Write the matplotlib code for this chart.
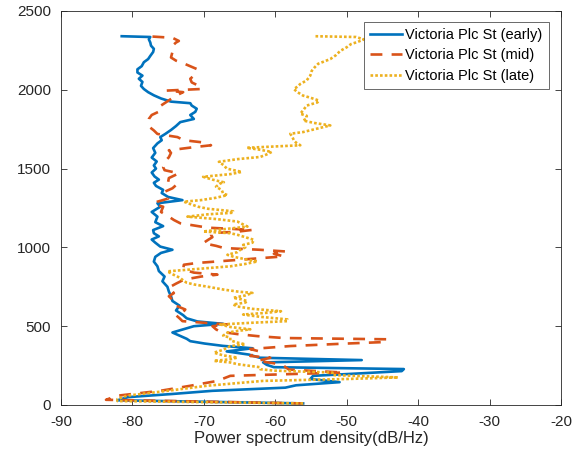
import matplotlib
matplotlib.use('Agg')
import matplotlib.pyplot as plt

## PSD traces (frequency in Hz, PSD in dB/Hz)
early_freq = [10, 30, 50, 70, 90, 110, 125, 145, 165, 185, 200, 215, 228, 240, 255, 270, 285, 300,
              320, 340, 360, 375, 390, 405, 420, 440, 460, 480, 500, 515, 530, 550, 570, 600, 630,
              660, 690, 720, 750, 785, 815, 850, 880, 910, 940, 965, 985, 1005, 1030, 1050, 1070,
              1090, 1110, 1135, 1160, 1195, 1225, 1258, 1280, 1300, 1320, 1345, 1365, 1390, 1410,
              1430, 1450, 1475, 1500, 1520, 1545, 1570, 1600, 1630, 1660, 1680, 1700, 1720, 1745,
              1770, 1795, 1815, 1840, 1860, 1880, 1900, 1915, 1925, 1945, 1965, 1985, 2005, 2025,
              2050, 2070, 2090, 2110, 2130, 2150, 2175, 2195, 2215, 2240, 2260, 2280, 2300, 2320,
              2335, 2340]
early_psd = [-56.1, -82.1, -80.6, -74.4, -68.8, -58.6, -57.1, -51.0, -55.1, -54.7, -48.4, -42.3,
             -42.0, -60.2, -61.2, -61.7, -47.9, -62.2, -63.7, -66.8, -63.2, -67.3, -69.9, -71.9,
             -72.4, -73.4, -74.4, -72.9, -71.4, -67.3, -70.9, -72.4, -72.9, -73.9, -73.4, -74.4,
             -74.6, -74.9, -75.1, -75.8, -75.5, -76.3, -76.5, -77.0, -76.8, -76.0, -74.4, -76.1,
             -76.8, -77.3, -76.3, -77.0, -77.1, -75.7, -76.8, -76.5, -77.3, -76.1, -76.5, -73.0,
             -75.0, -75.9, -75.7, -76.7, -77.0, -76.3, -76.9, -77.3, -76.7, -77.0, -76.6, -77.3,
             -76.8, -77.1, -76.5, -75.9, -76.1, -75.4, -74.6, -73.9, -73.3, -71.4, -71.9, -71.2,
             -71.0, -71.7, -71.9, -74.6, -76.0, -77.0, -77.8, -78.4, -78.8, -78.6, -79.1, -78.6,
             -79.3, -79.3, -78.7, -78.4, -77.8, -77.5, -77.1, -77.0, -77.4, -77.5, -77.7, -77.5,
             -81.5]

mid_freq = [10, 33, 59, 90, 122, 153, 185, 206, 225, 248, 265, 280, 300, 311, 340, 355, 374, 390,
            400, 417, 425, 437, 450, 465, 480, 500, 511, 532, 550, 570, 590, 606, 630, 650, 669,
            690, 710, 745, 770, 795, 815, 827, 840, 860, 890, 901, 922, 943, 960, 974, 985, 996,
            1010, 1027, 1048, 1065, 1080, 1090, 1100, 1111, 1125, 1132, 1153, 1174, 1195, 1225,
            1258, 1275, 1290, 1310, 1330, 1353, 1375, 1395, 1415, 1440, 1470, 1490, 1510, 1534,
            1553, 1572, 1600, 1616, 1636, 1648, 1665, 1680, 1700, 1720, 1742, 1760, 1790, 1815,
            1840, 1870, 1900, 1930, 1963, 1985, 1995, 2005, 2016, 2047, 2070, 2090, 2110, 2132,
            2163, 2185, 2205, 2240, 2279, 2300, 2310, 2330, 2340]
mid_psd = [-56.1, -83.7, -82.1, -76.1, -71.9, -68.1, -66.3, -50.5, -58.1, -58.8, -60.2, -62.5,
           -60.7, -63.5, -62.2, -63.5, -57.9, -50.0, -44.4, -44.4, -58.8, -62.5, -65.3, -67.7,
           -68.3, -68.8, -66.7, -73.0, -73.4, -73.9, -72.9, -72.6, -73.9, -74.4, -74.4, -74.9,
           -74.2, -74.9, -73.9, -72.8, -70.4, -68.1, -71.4, -72.9, -72.8, -71.0, -64.9, -58.8,
           -60.2, -58.5, -62.2, -67.2, -68.3, -70.1, -69.4, -68.8, -69.0, -69.0, -65.3, -63.2,
           -69.4, -70.4, -73.3, -74.2, -74.9, -76.0, -75.7, -77.0, -76.5, -75.0, -75.5, -75.5,
           -74.4, -73.9, -75.0, -74.9, -73.5, -75.5, -75.7, -75.5, -75.3, -74.9, -74.6, -74.9,
           -71.4, -69.0, -69.9, -72.8, -73.7, -76.5, -77.0, -77.5, -77.8, -77.7, -77.3, -75.9,
           -76.0, -75.0, -73.9, -72.9, -75.2, -70.4, -70.3, -71.7, -71.9, -71.4, -71.2, -71.0,
           -72.6, -73.9, -74.6, -74.4, -74.4, -73.9, -73.5, -74.4, -78.0]

late_freq = [10, 25, 38, 59, 90, 122, 153, 165, 175, 190, 206, 218, 227, 240, 259, 270, 280, 290,
             301, 315, 332, 350, 374, 385, 396, 410, 427, 440, 459, 470, 480, 495, 511, 522, 532,
             543, 560, 574, 585, 595, 610, 625, 638, 650, 659, 670, 680, 695, 711, 720, 732, 750,
             765, 776, 790, 806, 830, 848, 865, 880, 895, 911, 925, 940, 953, 970, 985, 1000, 1016,
             1030, 1048, 1065, 1080, 1090, 1101, 1115, 1132, 1150, 1164, 1180, 1195, 1210, 1220,
             1229, 1245, 1258, 1275, 1290, 1300, 1315, 1332, 1342, 1364, 1385, 1406, 1413, 1430,
             1448, 1465, 1479, 1500, 1521, 1543, 1560, 1574, 1590, 1606, 1620, 1632, 1640, 1648,
             1665, 1679, 1700, 1721, 1732, 1753, 1774, 1790, 1805, 1818, 1835, 1848, 1870, 1900,
             1920, 1932, 1950, 1963, 1985, 2005, 2020, 2037, 2060, 2090, 2120, 2142, 2165, 2195,
             2220, 2247, 2270, 2290, 2305, 2320, 2335, 2340]
late_psd = [-56.1, -82.1, -82.1, -80.8, -75.1, -69.6, -61.7, -50.0, -42.8, -52.0, -52.0, -60.2,
            -62.1, -62.2, -65.3, -66.3, -68.6, -66.3, -65.3, -67.3, -68.6, -67.3, -66.3, -64.2,
            -65.3, -66.3, -66.3, -67.3, -66.7, -65.3, -63.5, -66.3, -67.7, -63.2, -58.3, -58.3,
            -62.2, -64.5, -61.2, -59.2, -63.2, -65.3, -65.9, -64.2, -63.9, -64.7, -65.9, -64.2,
            -63.2, -65.3, -67.2, -69.4, -71.4, -72.4, -72.9, -73.3, -74.4, -75.1, -70.4, -66.3,
            -64.2, -62.5, -64.2, -65.8, -66.7, -65.3, -64.9, -64.2, -64.5, -63.2, -63.0, -64.2,
            -65.3, -66.3, -70.1, -67.3, -63.9, -64.7, -65.3, -68.3, -72.3, -69.4, -65.9, -65.9,
            -69.4, -70.8, -71.9, -72.8, -70.4, -68.3, -66.7, -67.3, -67.5, -68.3, -67.7, -67.2,
            -68.8, -70.1, -66.3, -64.7, -66.8, -67.2, -67.9, -65.3, -62.1, -61.2, -60.5, -62.2,
            -64.0, -60.2, -56.5, -57.1, -57.4, -57.6, -57.9, -56.1, -54.2, -52.3, -54.6, -56.1,
            -55.6, -55.6, -56.5, -56.1, -55.6, -54.1, -53.9, -55.1, -56.1, -56.9, -57.4, -56.9,
            -56.5, -55.6, -55.1, -54.9, -54.5, -54.0, -52.3, -51.5, -50.9, -50.0, -49.4, -48.4,
            -47.6, -48.7, -54.6]

labels = ['Victoria Plc St (early)', 'Victoria Plc St (mid)', 'Victoria Plc St (late)']
x_ticks = [-90, -80, -70, -60, -50, -40, -30, -20]
y_ticks = [0, 500, 1000, 1500, 2000, 2500]

plt.rcParams['font.family'] = ['Liberation Sans', 'DejaVu Sans']
plt.rcParams['axes.unicode_minus'] = False

fig = plt.figure(figsize=(5.84, 4.58), dpi=100)
ax = fig.add_axes([61 / 584, 1 - 405 / 458, 500 / 584, 394 / 458])

ax.plot(early_psd, early_freq, color='#0072BD', lw=1.9, ls='-', label=labels[0])
ax.plot(mid_psd, mid_freq, color='#D95319', lw=1.9, ls=(0, (4.5, 3.5)), label=labels[1])
ax.plot(late_psd, late_freq, color='#EDB120', lw=1.9, ls=(0, (1, 0.8)), label=labels[2])

ax.set_xlim(-90, -20)
ax.set_ylim(0, 2500)
ax.set_xticks(x_ticks)
ax.set_yticks(y_ticks)
ax.tick_params(direction='in', top=True, right=True, length=4, width=0.6,
               color='#262626', labelsize=11, labelcolor='#262626')
ax.tick_params(axis='x', pad=7)
ax.tick_params(axis='y', pad=7)
for s in ax.spines.values():
    s.set_color('#262626')
    s.set_linewidth(0.6)
ax.set_xlabel('Power spectrum density(dB/Hz)', fontsize=12, color='#262626', labelpad=2)

leg = ax.legend(loc='upper right', bbox_to_anchor=(0.975, 0.972), fontsize=10.5,
                frameon=True, fancybox=False, handlelength=2.2, handletextpad=0.25,
                borderpad=0.4, labelspacing=0.45, borderaxespad=0)
leg.get_frame().set_edgecolor('#262626')
leg.get_frame().set_linewidth(0.6)

fig.savefig('out.png', dpi=100)
